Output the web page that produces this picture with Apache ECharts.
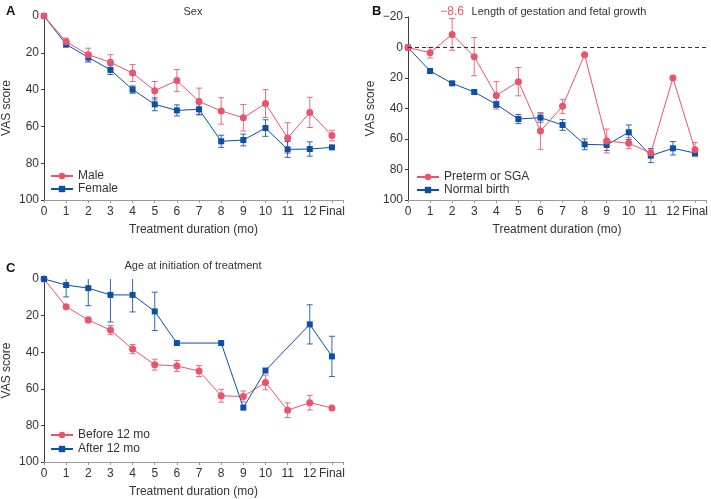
<!DOCTYPE html>
<html>
<head>
<meta charset="utf-8">
<script src="https://cdn.jsdelivr.net/npm/echarts@6/dist/echarts.min.js"></script>
<style>
html,body{margin:0;padding:0;background:#fff;}
#chart{width:711px;height:499px;}
</style>
</head>
<body>
<div id="chart"></div>
<script>
// ---- data ----
var months = [0,1,2,3,4,5,6,7,8,9,10,11,12,13];
var xTickLabels = ['0','1','2','3','4','5','6','7','8','9','10','11','12','Final'];

// Panel A: Sex
var maleMean   = [0,14,21,25.2,31,40.6,35.1,46.4,51.6,55.3,47.6,66.3,52.4,65];
var maleErr    = [0,2,3.5,4.2,4.6,5,6,7.2,7.2,7.2,7.6,8.3,8.2,2.9];
var femaleMean = [0,15.4,22.5,29.3,40,48,51.3,50.7,68.1,67.4,60.9,72.5,72.3,71.4];
var femaleErr  = [0,1.5,2.5,2.5,2,3.5,3,3,3.3,3.2,4.5,4.3,3.9,0.6];

// Panel B: Length of gestation and fetal growth
var pretermMean = [0,3.4,-8.6,6.0,31.4,22.4,54.8,38.6,4.7,61.3,62.8,69.2,20,67];
var pretermErr  = [0,3.5,10.4,12.5,9,9.3,12,4.6,0,7.8,3.6,2,0,4.6];
var normalMean  = [0,15.4,23.5,29.2,37.3,46.9,46,50.8,63.5,63.9,55.6,70.9,66.1,69.2];
var normalErr   = [0,0.8,0.8,0.8,2,3,3,3.5,3.5,3.6,4.8,4.6,4.4,2];
var pretermNote = '\u22128.6';

// Panel C: Age at initiation of treatment
var beforeMean = [0,15.1,22.4,27.9,38.3,46.8,47.5,50.3,63.8,64.2,56.5,71.7,67.6,70.5];
var beforeErr  = [0,0.8,1.5,2.5,2.5,3,3,3,3.5,3,4,4,4,0];
var afterMean  = [0,3.3,5,8.7,8.7,17.7,35,null,35,70.3,50,null,24.8,42.3];
var afterErr   = [0,6.5,9.6,14.8,9.3,10.5,0,0,0,0,0,0,10.7,11];

var PINK = '#e9536d';
var BLUE = '#0b4fa6';

function pts(mean){ return months.map(function(m,i){ return [m, mean[i]]; }); }
function errData(mean, err){
  var out = [];
  months.forEach(function(m,i){
    if (mean[i] !== null && err[i] > 0) out.push([m, mean[i]-err[i], mean[i]+err[i]]);
  });
  return out;
}
function renderErr(params, api){
  var x = api.value(0);
  var top = api.coord([x, api.value(1)]);
  var bot = api.coord([x, api.value(2)]);
  var cs = params.coordSys;
  var y1 = Math.max(top[1], cs.y), y2 = Math.min(bot[1], cs.y + cs.height);
  var hw = 3;
  var style = api.style({stroke: api.visual('color'), lineWidth: 1, fill: null});
  var children = [{type:'line', shape:{x1:top[0], y1:y1, x2:top[0], y2:y2}, style: style}];
  if (top[1] >= cs.y) children.push({type:'line', shape:{x1:top[0]-hw, y1:top[1], x2:top[0]+hw, y2:top[1]}, style: style});
  if (bot[1] <= cs.y + cs.height) children.push({type:'line', shape:{x1:bot[0]-hw, y1:bot[1], x2:bot[0]+hw, y2:bot[1]}, style: style});
  return {type:'group', children: children};
}

var FONT = 'Liberation Sans, Arial, sans-serif';
var TXT = '#333';

function xAxis(idx){
  return {
    gridIndex: idx, type: 'value', min: 0, max: 13.5, interval: 1,
    name: 'Treatment duration (mo)', nameLocation: 'middle', nameGap: 24,
    nameTextStyle: {fontFamily: FONT, fontSize: 12, color: TXT},
    axisLine: {onZero: false, lineStyle: {color: '#9a9a9a', width: 1}},
    axisTick: {show: true, length: 3, inside: false, lineStyle: {color: '#9a9a9a'}},
    axisLabel: {fontFamily: FONT, fontSize: 12, color: TXT, margin: 6, showMaxLabel: true,
      formatter: function(v){ return (v === Math.round(v) && v <= 13) ? xTickLabels[v] : ''; }},
    splitLine: {show: false}
  };
}
function yAxis(idx, min){
  return {
    gridIndex: idx, type: 'value', inverse: true, min: min, max: 100, interval: 20,
    name: 'VAS score', nameLocation: 'middle', nameGap: 31, nameRotate: 90,
    nameTextStyle: {fontFamily: FONT, fontSize: 12, color: TXT},
    axisLine: {show: true, onZero: false, lineStyle: {color: '#3a3a3a', width: 1}},
    axisTick: {show: true, length: 3, lineStyle: {color: '#3a3a3a'}},
    axisLabel: {fontFamily: FONT, fontSize: 12, color: TXT, margin: 5,
      formatter: function(v){ return String(v).replace('-', '\u2212'); }},
    splitLine: {show: false}
  };
}
function lineSeries(name, mean, color, symbol, idx, extra){
  var s = {
    name: name, type: 'line', xAxisIndex: idx, yAxisIndex: idx,
    data: pts(mean), connectNulls: true,
    symbol: symbol, symbolSize: symbol === 'circle' ? 7 : 6,
    itemStyle: {color: color}, lineStyle: {color: color, width: 1},
    emphasis: {disabled: true}, z: 3
  };
  if (extra) for (var k in extra) s[k] = extra[k];
  return s;
}
function errSeries(name, mean, err, color, idx){
  return {
    name: name + ' error', type: 'custom', xAxisIndex: idx, yAxisIndex: idx,
    data: errData(mean, err), renderItem: renderErr,
    encode: {x: 0, y: [1, 2]},
    itemStyle: {color: color, opacity: 0.85}, z: 2, silent: true
  };
}
function legend(names, left, top, gap){
  return {data: names, left: left, top: top, orient: 'vertical', itemWidth: 22, itemHeight: 8, itemGap: gap,
    padding: 0, textStyle: {fontFamily: FONT, fontSize: 12, color: TXT, lineHeight: 12}, selectedMode: false};
}
var titleStyle = {fontFamily: FONT, fontSize: 11, fontWeight: 'normal', color: TXT};
var letterStyle = {fontFamily: FONT, fontSize: 13, fontWeight: 'bold', color: '#111'};

var option = {
  animation: false,
  backgroundColor: '#fff',
  textStyle: {fontFamily: FONT},
  grid: [
    {left: 42, top: 16, width: 301, height: 184},
    {left: 408, top: 17, width: 301, height: 183},
    {left: 42, top: 279, width: 301, height: 183}
  ],
  title: [
    {text: 'Sex', left: 193, top: 6, padding: 0, textAlign: 'center', textStyle: titleStyle},
    {text: 'Length of gestation and fetal growth', left: 559, top: 6, padding: 0, textAlign: 'center', textStyle: titleStyle},
    {text: 'Age at initiation of treatment', left: 193, top: 260, padding: 0, textAlign: 'center', textStyle: titleStyle},
    {text: 'A', left: 1, top: 0, textStyle: letterStyle},
    {text: 'B', left: 367, top: 0, textStyle: letterStyle},
    {text: 'C', left: 1, top: 257, textStyle: letterStyle}
  ],
  legend: [
    legend(['Male','Female'], 50, 170, 1),
    legend(['Preterm or SGA','Normal birth'], 416, 171, 1),
    legend(['Before 12 mo','After 12 mo'], 50, 429, 2)
  ],
  xAxis: [xAxis(0), xAxis(1), xAxis(2)],
  yAxis: [yAxis(0, 0), yAxis(1, -20), yAxis(2, 0)],
  series: [
    errSeries('Male', maleMean, maleErr, PINK, 0),
    errSeries('Female', femaleMean, femaleErr, BLUE, 0),
    lineSeries('Female', femaleMean, BLUE, 'rect', 0),
    lineSeries('Male', maleMean, PINK, 'circle', 0),

    errSeries('Normal birth', normalMean, normalErr, BLUE, 1),
    errSeries('Preterm or SGA', pretermMean, pretermErr, PINK, 1),
    lineSeries('Normal birth', normalMean, BLUE, 'rect', 1, {
      markLine: {silent: true, symbol: 'none', label: {show: false},
        lineStyle: {type: [4, 3], color: '#333', width: 1}, data: [{yAxis: 0}]}
    }),
    lineSeries('Preterm or SGA', pretermMean, PINK, 'circle', 1, {
      markPoint: {silent: true, symbol: 'circle', symbolSize: 0,
        data: [{coord: [2, -20], value: pretermNote}],
        label: {show: true, position: 'top', distance: 0, offset: [0, 1], formatter: pretermNote,
          color: PINK, fontFamily: FONT, fontSize: 12}}
    }),

    errSeries('Before 12 mo', beforeMean, beforeErr, PINK, 2),
    errSeries('After 12 mo', afterMean, afterErr, BLUE, 2),
    lineSeries('Before 12 mo', beforeMean, PINK, 'circle', 2),
    lineSeries('After 12 mo', afterMean, BLUE, 'rect', 2)
  ]
};
var chart = echarts.init(document.getElementById('chart'), null, {renderer: 'canvas'});
chart.setOption(option);
</script>
</body>
</html>
